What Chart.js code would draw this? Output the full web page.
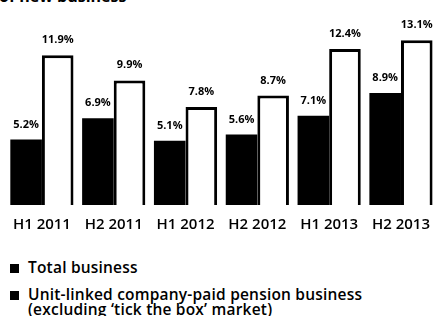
<!DOCTYPE html>
<html>
<head>
<meta charset="utf-8">
<script src="https://cdn.jsdelivr.net/npm/chart.js@4/dist/chart.umd.min.js"></script>
<style>
html,body{margin:0;padding:0;background:#fff;overflow:hidden;width:438px;height:316px;}
#wrap{position:relative;width:438px;height:316px;overflow:hidden;font-family:"Open Sans",sans-serif;color:#000;}
#title{position:absolute;left:-1px;top:-14px;font-weight:700;font-size:16px;line-height:20px;white-space:nowrap;}
#cv{position:absolute;left:0;top:0;width:441px;height:245px;}
#legend{position:absolute;left:10px;top:260px;font-weight:600;font-size:15.5px;line-height:15.5px;letter-spacing:0.2px;}
.item{display:flex;align-items:flex-start;margin-bottom:11px;}
.sw{width:9px;height:9px;background:#000;margin-top:4px;margin-right:9px;flex:none;}
</style>
</head>
<body>
<div id="wrap">
<div id="title">of new business</div>
<canvas id="cv" width="441" height="245"></canvas>
<div id="legend"></div>
</div>
<script>
const categories = ["H1 2011","H2 2011","H1 2012","H2 2012","H1 2013","H2 2013"];
const totalBusiness = [5.2, 6.9, 5.1, 5.6, 7.1, 8.9];
const unitLinked = [11.9, 9.9, 7.8, 8.7, 12.4, 13.1];
const seriesNames = ["Total business", ["Unit-linked company-paid pension business", "(excluding \u2018tick the box\u2019 market)"]];

const leg = document.getElementById('legend');
seriesNames.forEach(n => {
  const d = document.createElement('div'); d.className = 'item';
  const s = document.createElement('div'); s.className = 'sw';
  const t = document.createElement('div');
  t.innerHTML = (Array.isArray(n) ? n : [n]).join('<br>');
  d.appendChild(s); d.appendChild(t); leg.appendChild(d);
});

const labelPlugin = {
  id: 'vals',
  afterDatasetsDraw(chart) {
    const ctx = chart.ctx;
    ctx.save();
    ctx.font = '700 11px "Open Sans"';
    ctx.fillStyle = '#000';
    ctx.textAlign = 'center';
    ctx.textBaseline = 'alphabetic';
    chart.data.datasets.forEach((ds, i) => {
      chart.getDatasetMeta(i).data.forEach((bar, j) => {
        ctx.fillText(ds.data[j].toFixed(1) + '%', bar.x, bar.y - 12);
      });
    });
    ctx.restore();
  }
};

new Chart(document.getElementById('cv'), {
  type: 'bar',
  data: {
    labels: categories,
    datasets: [
      {label: 'Total business', data: totalBusiness, backgroundColor: '#000', borderWidth: 0,
       categoryPercentage: 0.88, barPercentage: 1.0},
      {label: 'Unit-linked', data: unitLinked, backgroundColor: '#fff', borderColor: '#000', borderWidth: 3,
       borderSkipped: 'bottom', categoryPercentage: 0.88, barPercentage: 1.0}
    ]
  },
  options: {
    responsive: false,
    animation: false,
    layout: {padding: {left: 6, right: 0, top: 0, bottom: 0}},
    plugins: {legend: {display: false}, tooltip: {enabled: false}},
    scales: {
      x: {grid: {display: false, drawTicks: false}, border: {display: false},
          ticks: {color: '#000', font: {family: '"Open Sans"', size: 15, weight: 600}, padding: 11}},
      y: {display: false, min: 0, max: 16.3}
    }
  },
  plugins: [labelPlugin]
});
</script>
</body>
</html>
